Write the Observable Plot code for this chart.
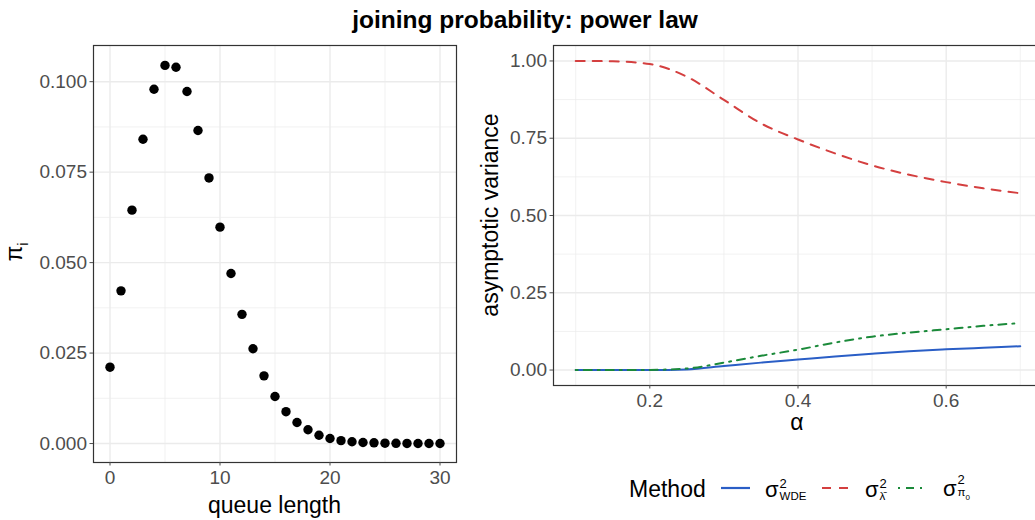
<!DOCTYPE html>
<html>
<head>
<meta charset="utf-8">
<script src="https://cdn.jsdelivr.net/npm/d3@7"></script>
<script src="https://cdn.jsdelivr.net/npm/@observablehq/plot@0.6"></script>
<style>
  html, body { margin: 0; padding: 0; background: #fff; overflow: hidden; }
  #fig { position: relative; width: 1035px; height: 520px; overflow: hidden; font-family: "Liberation Sans", Arial, sans-serif; }
  .abs { position: absolute; white-space: nowrap; }
  .title { font-weight: bold; font-size: 24.5px; color: #000; transform: translate(-50%, -50%); }
  .axt { font-size: 23px; color: #000; transform: translate(-50%, -50%); }
  .rot { transform: translate(-50%, -50%) rotate(-90deg); }
  .leg { font-size: 23px; color: #000; transform: translateY(-50%); }
  .sym { font-size: 22px; display: inline-flex; align-items: center; }
  .ss { display: inline-flex; flex-direction: column; font-size: 13px; line-height: 12px; margin-left: 1px; }
  .ss .sub { font-size: 11.5px; }
  svg { overflow: visible; }
</style>
</head>
<body>
<div id="fig"></div>
<script>
// ---- Left panel data: stationary distribution pi_i vs queue length
const queueLength = [0,1,2,3,4,5,6,7,8,9,10,11,12,13,14,15,16,17,18,19,20,21,22,23,24,25,26,27,28,29,30];
const piValues = [0.0211,0.0422,0.0645,0.0841,0.0979,0.1045,0.1040,0.0973,0.0865,0.0734,0.0598,0.0470,0.0357,0.0262,0.0187,0.0130,0.0088,0.0058,0.0038,0.0023,0.0014,0.0008,0.0005,0.0003,0.0002,0.0001,0.00006,0.00003,0.00002,0.00001,0.00001];
const leftXTicks = [0, 10, 20, 30];
const leftXMinor = [5, 15, 25];
const leftYTicks = [0, 0.025, 0.05, 0.075, 0.1];
const leftYMinor = [0.0125, 0.0375, 0.0625, 0.0875];

// ---- Right panel data: asymptotic variance vs alpha
const alpha = [0.10,0.15,0.20,0.25,0.30,0.35,0.40,0.45,0.50,0.55,0.60,0.65,0.70];
const varWDE = [0.000,0.000,0.000,0.002,0.013,0.024,0.034,0.044,0.053,0.061,0.067,0.072,0.077];
const varLambda = [1.000,0.999,0.990,0.949,0.874,0.798,0.746,0.701,0.662,0.632,0.608,0.588,0.572];
const varPi0 = [0.000,0.000,0.0005,0.005,0.024,0.046,0.066,0.089,0.108,0.121,0.132,0.143,0.152];
const methods = ["WDE", "lambda", "pi0"];
const methodColors = ["#2A5EC6", "#D43F3F", "#1B8A3A"];
const methodDash = ["none", "9,8", "2,6,8,6"];
const rightXTicks = [0.2, 0.4, 0.6];
const rightXMinor = [0.1, 0.3, 0.5, 0.7];
const rightYTicks = [0, 0.25, 0.5, 0.75, 1];
const rightYMinor = [0.125, 0.375, 0.625, 0.875];

const fig = document.getElementById("fig");
const FONT = '"Liberation Sans", Arial, sans-serif';
const GRID = "#EBEBEB";

// Left plot
const leftData = queueLength.map((q, i) => ({q, p: piValues[i]}));
const left = Plot.plot({
  width: 470, height: 520,
  marginLeft: 93, marginRight: 14, marginTop: 45, marginBottom: 58,
  style: {fontFamily: FONT, fontSize: "19px", background: "transparent"},
  x: {domain: [-1.5, 31.5]},
  y: {domain: [-0.00524, 0.110]},
  marks: [
    Plot.ruleX(leftXMinor, {stroke: GRID, strokeWidth: 0.7}),
    Plot.ruleY(leftYMinor, {stroke: GRID, strokeWidth: 0.7}),
    Plot.ruleX(leftXTicks, {stroke: GRID, strokeWidth: 1.4}),
    Plot.ruleY(leftYTicks, {stroke: GRID, strokeWidth: 1.4}),
    Plot.dot(leftData, {x: "q", y: "p", r: 4.7, fill: "#000", stroke: "none"}),
    Plot.frame({stroke: "#333", strokeWidth: 1.2}),
    Plot.axisX({ticks: leftXTicks, tickSize: 3.5, tickPadding: 4.5, label: null, color: "#4D4D4D"}),
    Plot.axisY({ticks: leftYTicks, tickSize: 3.5, tickPadding: 3, label: null, color: "#4D4D4D", tickFormat: d3.format(".3f")})
  ]
});
left.style.position = "absolute"; left.style.left = "0px"; left.style.top = "0px";
fig.appendChild(left);

// Right plot
const rightData = [];
methods.forEach((m, k) => {
  const vals = [varWDE, varLambda, varPi0][k];
  alpha.forEach((a, i) => rightData.push({method: m, alpha: a, v: vals[i]}));
});
const right = Plot.plot({
  width: 580, height: 430,
  marginLeft: 83, marginRight: 8, marginTop: 45, marginBottom: 45,
  style: {fontFamily: FONT, fontSize: "19px", background: "transparent"},
  x: {domain: [0.07, 0.73]},
  y: {domain: [-0.05, 1.05]},
  marks: [
    Plot.ruleX(rightXMinor, {stroke: GRID, strokeWidth: 0.7}),
    Plot.ruleY(rightYMinor, {stroke: GRID, strokeWidth: 0.7}),
    Plot.ruleX(rightXTicks, {stroke: GRID, strokeWidth: 1.4}),
    Plot.ruleY(rightYTicks, {stroke: GRID, strokeWidth: 1.4}),
    ...methods.map((m, k) => Plot.line(rightData.filter(d => d.method === m), {
      x: "alpha", y: "v", stroke: methodColors[k], strokeWidth: 2,
      strokeDasharray: methodDash[k] === "none" ? null : methodDash[k], curve: "monotone-x"
    })),
    Plot.frame({stroke: "#333", strokeWidth: 1.2}),
    Plot.axisX({ticks: rightXTicks, tickSize: 3.5, tickPadding: 4, label: null, color: "#4D4D4D", tickFormat: d3.format(".1f")}),
    Plot.axisY({ticks: rightYTicks, tickSize: 3.5, tickPadding: 3, label: null, color: "#4D4D4D", tickFormat: d3.format(".2f")})
  ]
});
right.style.position = "absolute"; right.style.left = "470px"; right.style.top = "0px";
fig.appendChild(right);

// Text
function addDiv(html, cls, x, y) {
  const d = document.createElement("div");
  d.className = "abs " + cls;
  d.innerHTML = html;
  d.style.left = x + "px"; d.style.top = y + "px";
  fig.appendChild(d);
  return d;
}
addDiv("joining probability: power law", "title", 525, 20);
addDiv("queue length", "axt", 274.5, 505);
addDiv('π<sub style="font-size:15px">i</sub>', "axt rot", 16, 252);
addDiv("asymptotic variance", "axt rot", 490, 215);
addDiv("α", "axt", 797, 422);

// Legend
addDiv("Method", "leg", 629, 489);
const labels = [
  'σ<span class="ss"><span>2</span><span class="sub">WDE</span></span>',
  'σ<span class="ss"><span>2</span><span class="sub">λ\u0304</span></span>',
  'σ<span class="ss"><span>2</span><span class="sub">π<sub style="font-size:8px">0</sub></span></span>'
];
const keyX = [719, 820, 896];
const labX = [765, 865, 943];
methods.forEach((m, k) => {
  const s = document.createElementNS("http://www.w3.org/2000/svg", "svg");
  s.setAttribute("width", 34); s.setAttribute("height", 10);
  s.style.position = "absolute"; s.style.left = keyX[k] + "px"; s.style.top = "483px";
  const l = document.createElementNS("http://www.w3.org/2000/svg", "line");
  l.setAttribute("x1", 2); l.setAttribute("x2", 31); l.setAttribute("y1", 5); l.setAttribute("y2", 5);
  l.setAttribute("stroke", methodColors[k]); l.setAttribute("stroke-width", 2.2);
  if (methodDash[k] !== "none") l.setAttribute("stroke-dasharray", methodDash[k]);
  s.appendChild(l);
  fig.appendChild(s);
  addDiv('<span class="sym">' + labels[k] + '</span>', "leg", labX[k], 489);
});
</script>
</body>
</html>
